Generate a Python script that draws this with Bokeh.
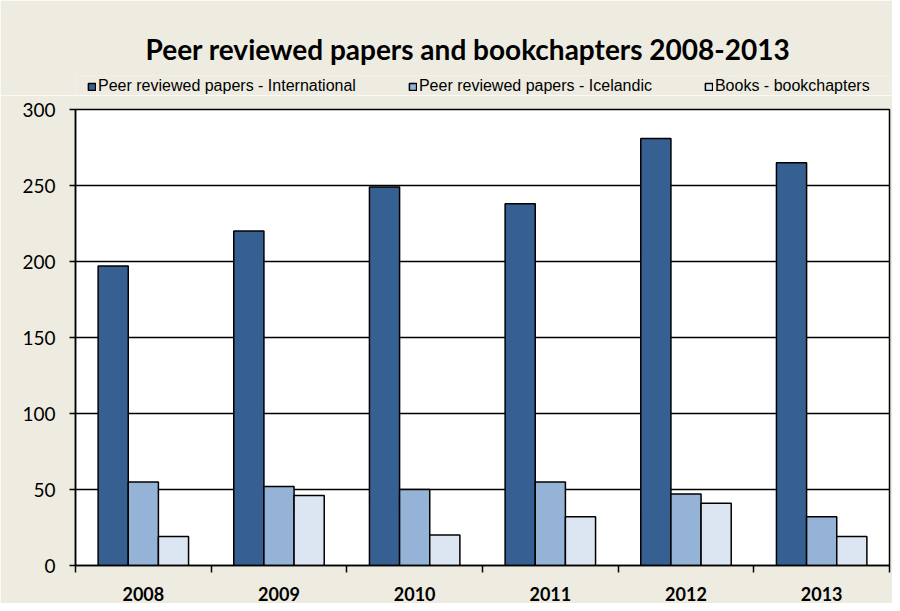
import numpy as np
from bokeh.plotting import figure
from bokeh.layouts import column
from bokeh.models import ColumnDataSource, Range1d, FixedTicker, Legend, LegendItem
from bokeh.transform import dodge
from bokeh.embed import file_html
from bokeh.resources import INLINE

years = ["2008", "2009", "2010", "2011", "2012", "2013"]
international = [197, 220, 249, 238, 281, 265]
icelandic = [55, 52, 50, 55, 47, 32]
books = [19, 46, 20, 32, 41, 19]
series_names = ["Peer reviewed papers - International",
                "Peer reviewed papers - Icelandic",
                "Books - bookchapters"]
series_cols = ["intl", "ice", "books"]
colors = ["#366092", "#95B3D7", "#DCE6F2"]
yticks = [0, 50, 100, 150, 200, 250, 300]
title_text = "Peer reviewed papers and bookchapters 2008-2013"

BG = "#EEECE1"
W = 892

pos = np.arange(len(years)) + 0.5
src = ColumnDataSource(dict(x=pos, intl=international, ice=icelandic, books=books))
bw = 1 / 4.5

# ---------- header: title + legend ----------
head = figure(width=W, height=95, x_range=Range1d(0, len(years)), y_range=Range1d(-10, -5),
              output_backend="svg", toolbar_location=None,
              min_border_left=75, min_border_right=3, min_border_top=75, min_border_bottom=0)
head.axis.visible = False
head.grid.visible = False
head.outline_line_color = None
head.background_fill_color = BG
head.border_fill_color = BG
head.title.text = title_text
head.title.align = "left"
head.title.offset = 70
head.title.text_font = "Lato"
head.title.text_font_style = "bold"
head.title.text_font_size = "28px"
head.title.text_color = "black"
head.title.standoff = 20

leg_r = []
for i, (col, c) in enumerate(zip(series_cols, colors)):
    r = head.vbar(x=dodge("x", (i - 1) * bw, range=head.x_range), top=col, width=bw, source=src,
                  fill_color=c, line_color="black", line_width=1.5, visible=False)
    leg_r.append(r)

legend = Legend(items=[LegendItem(label=n, renderers=[r]) for n, r in zip(series_names, leg_r)],
                orientation="horizontal", location=(12, 0),
                background_fill_alpha=0, border_line_alpha=0,
                label_text_font="Liberation Sans", label_text_font_size="16px",
                label_text_color="black",
                glyph_width=9, glyph_height=9, spacing=52, label_standoff=2,
                padding=0, margin=0)
head.add_layout(legend)

# ---------- main chart ----------
p = figure(width=W, height=508, x_range=Range1d(0, len(years)), y_range=Range1d(0, 300),
           output_backend="svg", toolbar_location=None,
           min_border_left=75, min_border_right=3, min_border_top=14, min_border_bottom=38)

p.background_fill_color = "white"
p.border_fill_color = BG
p.outline_line_color = "black"
p.outline_line_width = 1.5

for i, (col, c) in enumerate(zip(series_cols, colors)):
    p.vbar(x=dodge("x", (i - 1) * bw, range=p.x_range), top=col, width=bw, source=src,
           fill_color=c, line_color="black", line_width=1.5)

# y axis
p.yaxis.ticker = FixedTicker(ticks=yticks)
p.yaxis.major_tick_out = 6
p.yaxis.major_tick_in = 0
p.yaxis.minor_tick_line_color = None
p.yaxis.major_label_standoff = 14
p.yaxis.major_label_text_font = "Lato"
p.yaxis.major_label_text_font_size = "19px"
p.yaxis.major_label_text_color = "black"
p.yaxis.axis_line_color = "black"
p.yaxis.axis_line_width = 1.5
p.yaxis.major_tick_line_color = "black"
p.yaxis.major_tick_line_width = 1.5

# x axis: labels at centres, ticks at boundaries
p.xaxis.ticker = FixedTicker(ticks=list(pos), minor_ticks=list(range(len(years) + 1)))
p.xaxis.major_label_overrides = {float(x): y for x, y in zip(pos, years)}
p.xaxis.major_tick_line_color = None
p.xaxis.major_tick_out = 0
p.xaxis.major_tick_in = 0
p.xaxis.minor_tick_out = 7
p.xaxis.minor_tick_in = 0
p.xaxis.minor_tick_line_color = "black"
p.xaxis.minor_tick_line_width = 1.5
p.xaxis.major_label_standoff = 14
p.xaxis.major_label_text_font = "Lato"
p.xaxis.major_label_text_font_style = "bold"
p.xaxis.major_label_text_font_size = "18px"
p.xaxis.major_label_text_color = "black"
p.xaxis.axis_line_color = "black"
p.xaxis.axis_line_width = 1.5

p.xgrid.visible = False
p.ygrid.grid_line_color = "black"
p.ygrid.grid_line_width = 1.5

layout = column(head, p, spacing=0)
open("out.html", "w").write(file_html(layout, INLINE))
